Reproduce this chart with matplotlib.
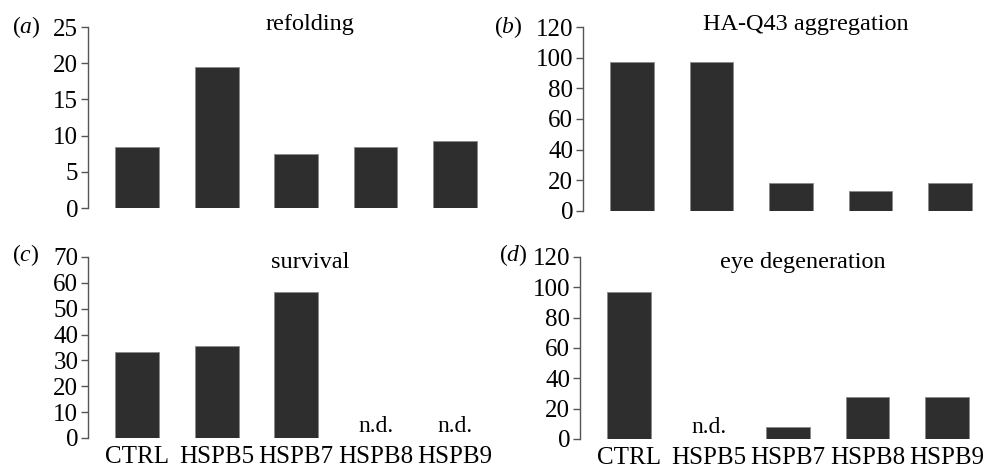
import matplotlib.pyplot as plt

plt.rcParams['font.family'] = ['Liberation Serif', 'DejaVu Serif']
plt.rcParams['mathtext.fontset'] = 'custom'
plt.rcParams['mathtext.it'] = 'Liberation Serif:italic'
plt.rcParams['mathtext.rm'] = 'Liberation Serif'

groups = ['CTRL', 'HSPB5', 'HSPB7', 'HSPB8', 'HSPB9']

# None = not determined (n.d.)
refolding = [8.4, 19.5, 7.5, 8.4, 9.2]
aggregation = [97, 97, 18, 13, 18]
survival = [33.3, 35.6, 56.5, None, None]
eye_degeneration = [97, None, 8, 27.7, 27.7]

panels = [
    ('a', 'refolding', refolding, 25, 5, [0.0886, 0.561, 0.40, 0.382]),
    ('b', 'HA-Q43 aggregation', aggregation, 120, 20, [0.587, 0.555, 0.40, 0.388]),
    ('c', 'survival', survival, 70, 10, [0.0886, 0.076, 0.40, 0.382]),
    ('d', 'eye degeneration', eye_degeneration, 120, 20, [0.584, 0.074, 0.40, 0.384]),
]

fig = plt.figure(figsize=(9.93, 4.74), dpi=100)
bar_color = '#2e2e2e'
axis_color = '#555555'

for letter, title, vals, ymax, step, pos in panels:
    ax = fig.add_axes(pos)
    x = list(range(len(groups)))
    heights = [v if v is not None else 0 for v in vals]
    ax.bar(x, heights, width=0.55, color=bar_color, edgecolor='#8a8a8a', linewidth=0.6)
    for i, v in enumerate(vals):
        if v is None:
            ax.text(i, ymax * 0.005, 'n.d.', ha='center', va='bottom', fontsize=17)
    ax.set_xlim(-0.62, 4.38)
    ax.set_ylim(0, ymax)
    ax.set_yticks(range(0, ymax + 1, step))
    for s in ['top', 'right', 'bottom']:
        ax.spines[s].set_visible(False)
    ax.spines['left'].set_color(axis_color)
    ax.spines['left'].set_linewidth(1.0)
    ax.tick_params(axis='y', direction='out', length=5, width=1.0, color=axis_color,
                   labelsize=18, pad=2)
    ax.set_xticks(x)
    if letter in ('c', 'd'):
        ax.set_xticklabels(groups, fontsize=18)
        ax.tick_params(axis='x', length=0, pad=6)
    else:
        ax.set_xticklabels([])
        ax.tick_params(axis='x', length=0)
    ty = 1.015 if letter in ('a', 'b') else 0.97
    ax.text(0.56, ty, title, transform=ax.transAxes, ha='center', va='center', fontsize=17.5)

# panel letters
fig.text(0.026, 1 - 27 / 474, r'($\it{a}$)', ha='center', va='center', fontsize=17)
fig.text(508 / 993, 1 - 27 / 474, r'($\it{b}$)', ha='center', va='center', fontsize=17)
fig.text(0.026, 1 - 255 / 474, r'($\it{c}$)', ha='center', va='center', fontsize=17)
fig.text(513 / 993, 1 - 255 / 474, r'($\it{d}$)', ha='center', va='center', fontsize=17)

fig.savefig('out.png', dpi=100)
